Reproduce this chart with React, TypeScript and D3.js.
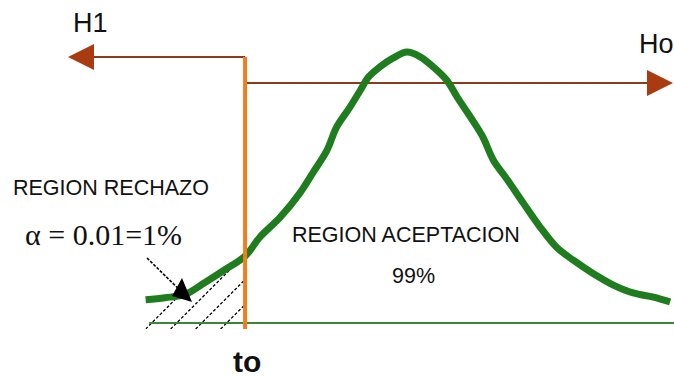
import React from "react";
import * as d3 from "d3";

// Test statistic values (t) and density values
const curveT = [-2.97, -2.75, -2.52, -2.3, -2.07, -1.84, -1.67, -1.44, -1.22, -1.07, -0.91, -0.8, -0.65, -0.53, -0.44, -0.31, -0.16, 0, 0.15, 0.3, 0.45, 0.57, 0.72, 0.86, 0.98, 1.14, 1.32, 1.51, 1.7, 1.89, 2.11, 2.34, 2.57, 2.8, 2.99];
const curveD = [0.034, 0.037, 0.042, 0.059, 0.078, 0.098, 0.126, 0.155, 0.19, 0.22, 0.253, 0.287, 0.316, 0.341, 0.36, 0.375, 0.388, 0.397, 0.39, 0.375, 0.356, 0.331, 0.302, 0.273, 0.239, 0.21, 0.176, 0.141, 0.111, 0.092, 0.073, 0.056, 0.044, 0.038, 0.031];
const criticalT = -1.84;
const labels = {
  h1: "H1",
  h0: "Ho",
  reject: "REGION RECHAZO",
  alpha: "α = 0.01=1%",
  accept: "REGION ACEPTACION",
  acceptPct: "99%",
  t0: "to",
};

const W = 674;
const H = 378;

export default function App() {
  const x = d3.scaleLinear().domain([-3, 3]).range([143, 671]);
  const y = d3.scaleLinear().domain([0, 0.4]).range([323, 50]);
  const pts: [number, number][] = curveT.map((t, i) => [t, curveD[i]]);

  const line = d3
    .line<[number, number]>()
    .x((d) => x(d[0]))
    .y((d) => y(d[1]))
    .curve(d3.curveCatmullRom);

  const tail = pts.filter((p) => p[0] <= criticalT + 1e-9);
  const area = d3
    .area<[number, number]>()
    .x((d) => x(d[0]))
    .y0(329)
    .y1((d) => y(d[1]) + 1)
    .curve(d3.curveCatmullRom);

  const xc = x(criticalT);
  const hatchStarts: number[] = [];
  for (let bx = x(curveT[0]); bx < xc; bx += 25) hatchStarts.push(bx);

  const brown = "#8c3a1c";
  const arrowFill = "#a83c10";
  const green = "#1f7d1f";
  const orange = "#f07d1e";
  const h1Y = 57;
  const h0Y = 83;
  const sans = "'Liberation Sans', Arial, sans-serif";

  return (
    <svg
      width={W}
      height={H}
      style={{ position: "absolute", left: 0, top: 0, background: "#fff" }}
    >
      <defs>
        <clipPath id="tailClip">
          <path d={area(tail) || ""} />
        </clipPath>
      </defs>

      {/* hatching of rejection region */}
      <g clipPath="url(#tailClip)">
        {hatchStarts.map((bx, i) => (
          <line
            key={i}
            x1={bx}
            y1={329}
            x2={bx + 130}
            y2={329 - 130}
            stroke="#000"
            strokeWidth={1.3}
            strokeDasharray="3,2"
          />
        ))}
      </g>

      {/* baseline */}
      <line x1={x(-2.93)} y1={y(0)} x2={W} y2={y(0)} stroke="#3a873a" strokeWidth={2} />

      {/* H1 arrow */}
      <line x1={xc} y1={h1Y} x2={90} y2={h1Y} stroke={brown} strokeWidth={2} />
      <path d={`M68,${h1Y} L94,${h1Y - 13} L94,${h1Y + 13} Z`} fill={arrowFill} />
      {/* Ho arrow */}
      <line x1={xc} y1={h0Y} x2={650} y2={h0Y} stroke={brown} strokeWidth={2} />
      <path d={`M673,${h0Y} L647,${h0Y - 13} L647,${h0Y + 13} Z`} fill={arrowFill} />

      {/* density curve */}
      <path d={line(pts) || ""} fill="none" stroke={green} strokeWidth={7} strokeLinejoin="round" />

      {/* critical value line */}
      <line x1={xc} y1={h1Y} x2={xc} y2={329} stroke={orange} strokeWidth={4} />

      {/* pointer arrow */}
      <line x1={147} y1={258} x2={190} y2={300} stroke="#000" strokeWidth={1.6} strokeDasharray="3,1.5" />
      <path d="M182,278 L172,296 L192,302 Z" fill="#000" />

      {/* texts */}
      <text x={73} y={32} fontFamily={sans} fontSize={27} fill="#111">{labels.h1}</text>
      <text x={639} y={53} fontFamily={sans} fontSize={27} fill="#111">{labels.h0}</text>
      <text x={13} y={195} fontFamily={sans} fontSize={21.5} fill="#111">{labels.reject}</text>
      <text x={25} y={245} fontFamily="'Liberation Serif', 'Times New Roman', serif" fontSize={30} fill="#111" style={{ whiteSpace: "pre" }}>{labels.alpha}</text>
      <text x={292} y={242} fontFamily={sans} fontSize={21.5} fill="#111">{labels.accept}</text>
      <text x={392} y={283} fontFamily={sans} fontSize={21.5} fill="#111">{labels.acceptPct}</text>
      <text x={233} y={372} fontFamily={sans} fontSize={30} fontWeight="bold" fill="#111">{labels.t0}</text>
    </svg>
  );
}
